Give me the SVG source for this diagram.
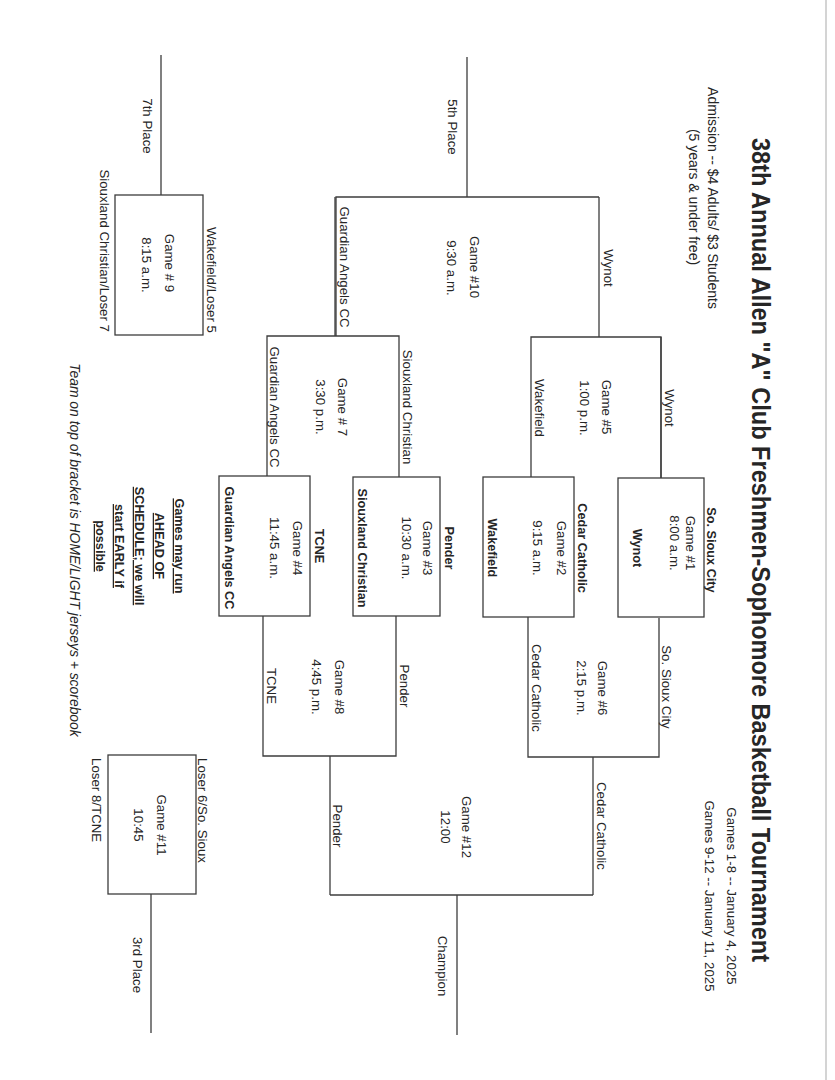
<svg xmlns="http://www.w3.org/2000/svg" width="835" height="1080" viewBox="0 0 835 1080">
<style>
.ln{stroke:#3c3c3c;stroke-width:1.3;fill:none}
.bx{fill:none;stroke:#3c3c3c;stroke-width:1.3}
text{font-family:"Liberation Sans",Arial,sans-serif;fill:#262626;text-anchor:middle}
.r{font-size:13.3px}
.b{font-size:12.7px;font-weight:bold}
.st{text-anchor:start}
.en{text-anchor:end}
.u{font-size:12.7px;font-weight:bold;text-decoration:underline}
</style>
<rect width="835" height="1080" fill="#fff"/>
<line x1="826" y1="0" x2="826" y2="1080" stroke="#d4d4d4" stroke-width="2"/>

<g id="header">
<text transform="rotate(90)" x="550" y="-752" font-size="26" font-weight="bold" textLength="824" lengthAdjust="spacingAndGlyphs">38th Annual Allen "A" Club Freshmen-Sophomore Basketball Tournament</text>
<text class="r" transform="rotate(90)" x="198" y="-708" font-size="14" style="font-size:14px">Admission -- $4 Adults/ $3 Students</text>
<text class="r" transform="rotate(90)" x="197" y="-689" style="font-size:14px">(5 years &amp; under free)</text>
<text class="r" transform="rotate(90)" x="896" y="-727">Games 1-8 -- January 4, 2025</text>
<text class="r" transform="rotate(90)" x="896" y="-705">Games 9-12 -- January 11, 2025</text>
</g>

<g id="connectors">
<line class="ln" x1="661" y1="337" x2="661" y2="478"/>
<line class="ln" x1="599" y1="197" x2="599" y2="337"/>
<line class="ln" x1="335" y1="197" x2="335" y2="336"/>
<line class="ln" x1="467" y1="57" x2="467" y2="197"/>
<line class="ln" x1="161" y1="55" x2="161" y2="195"/>
<line class="ln" x1="593" y1="757" x2="593" y2="895"/>
<line class="ln" x1="330" y1="756" x2="330" y2="895"/>
<line class="ln" x1="457" y1="895" x2="457" y2="1035"/>
<line class="ln" x1="151" y1="894" x2="151" y2="1033"/>
</g>

<g id="game1">
<rect class="bx" x="618" y="478" width="86" height="139"/>
<text class="b" transform="rotate(90)" x="550" y="-707">So. Sioux City</text>
<text class="r" transform="rotate(90)" x="543" y="-686">Game #1</text>
<text class="r" transform="rotate(90)" x="543" y="-670">8:00 a.m.</text>
<text class="b" transform="rotate(90)" x="548" y="-633">Wynot</text>
</g>

<g id="game2">
<rect class="bx" x="483" y="477" width="91" height="140"/>
<text class="b" transform="rotate(90)" x="548" y="-578">Cedar Catholic</text>
<text class="r" transform="rotate(90)" x="548" y="-557">Game #2</text>
<text class="r" transform="rotate(90)" x="548" y="-533">9:15 a.m.</text>
<text class="b" transform="rotate(90)" x="548" y="-488">Wakefield</text>
</g>

<g id="game3">
<rect class="bx" x="353" y="477" width="87" height="139"/>
<text class="b" transform="rotate(90)" x="548" y="-445">Pender</text>
<text class="r" transform="rotate(90)" x="548" y="-423">Game #3</text>
<text class="r" transform="rotate(90)" x="548" y="-402">10:30 a.m.</text>
<text class="b" transform="rotate(90)" x="548" y="-358">Siouxland Christian</text>
</g>

<g id="game4">
<rect class="bx" x="219" y="476" width="91" height="140"/>
<text class="b" transform="rotate(90)" x="546" y="-315">TCNE</text>
<text class="r" transform="rotate(90)" x="548" y="-293">Game #4</text>
<text class="r" transform="rotate(90)" x="548" y="-270">11:45 a.m.</text>
<text class="b" transform="rotate(90)" x="548" y="-225">Guardian Angels CC</text>
</g>

<g id="game5">
<path class="ln" d="M531,477 V337 H661 V478"/>
<text class="r" transform="rotate(90)" x="408" y="-665">Wynot</text>
<text class="r" transform="rotate(90)" x="407" y="-602">Game #5</text>
<text class="r" transform="rotate(90)" x="408" y="-580">1:00 p.m.</text>
<text class="r" transform="rotate(90)" x="408" y="-535">Wakefield</text>
</g>

<g id="game6">
<path class="ln" d="M528,617 V757 H659 V618"/>
<text class="r" transform="rotate(90)" x="687" y="-662">So. Sioux City</text>
<text class="r" transform="rotate(90)" x="688" y="-598">Game #6</text>
<text class="r" transform="rotate(90)" x="688" y="-577">2:15 p.m.</text>
<text class="r" transform="rotate(90)" x="688" y="-532">Cedar Catholic</text>
</g>

<g id="game7">
<path class="ln" d="M267,476 V336 H399 V477"/>
<text class="r" transform="rotate(90)" x="407" y="-403">Siouxland Christian</text>
<text class="r" transform="rotate(90)" x="407" y="-338">Game # 7</text>
<text class="r" transform="rotate(90)" x="407" y="-316">3:30 p.m.</text>
<text class="r" transform="rotate(90)" x="407" y="-270">Guardian Angels CC</text>
</g>

<g id="game8">
<path class="ln" d="M263,616 V756 H396 V616"/>
<text class="r" transform="rotate(90)" x="686" y="-400">Pender</text>
<text class="r" transform="rotate(90)" x="687" y="-335">Game #8</text>
<text class="r" transform="rotate(90)" x="687" y="-312">4:45 p.m.</text>
<text class="r" transform="rotate(90)" x="686" y="-267">TCNE</text>
</g>

<g id="game9">
<rect class="bx" x="115" y="195" width="88" height="140"/>
<text class="r en" transform="rotate(90)" x="333" y="-207">Wakefield/Loser 5</text>
<text class="r" transform="rotate(90)" x="263" y="-165">Game # 9</text>
<text class="r" transform="rotate(90)" x="265" y="-142">8:15 a.m.</text>
<text class="r en" transform="rotate(90)" x="332" y="-100">Siouxland Christian/Loser 7</text>
<text class="r" transform="rotate(90)" x="126" y="-143">7th Place</text>
</g>

<g id="game10">
<path class="ln" d="M336,336 V197 H599"/>
<text class="r" transform="rotate(90)" x="268" y="-604">Wynot</text>
<text class="r" transform="rotate(90)" x="267" y="-470">Game #10</text>
<text class="r" transform="rotate(90)" x="268" y="-447">9:30 a.m.</text>
<text class="r" transform="rotate(90)" x="267" y="-340">Guardian Angels CC</text>
<text class="r" transform="rotate(90)" x="127" y="-448">5th Place</text>
</g>

<g id="game11">
<rect class="bx" x="108" y="755" width="88" height="139"/>
<text class="r st" transform="rotate(90)" x="758" y="-198">Loser 6/So. Sioux</text>
<text class="r" transform="rotate(90)" x="825" y="-157">Game #11</text>
<text class="r" transform="rotate(90)" x="825" y="-134">10:45</text>
<text class="r st" transform="rotate(90)" x="758" y="-92">Loser 8/TCNE</text>
<text class="r" transform="rotate(90)" x="965" y="-133">3rd Place</text>
</g>

<g id="game12">
<path class="ln" d="M330,895 H593"/>
<text class="r" transform="rotate(90)" x="826" y="-597">Cedar Catholic</text>
<text class="r" transform="rotate(90)" x="826" y="-333">Pender</text>
<text class="r" transform="rotate(90)" x="827" y="-462">Game #12</text>
<text class="r" transform="rotate(90)" x="827" y="-441">12:00</text>
<text class="r" transform="rotate(90)" x="966" y="-438">Champion</text>
</g>

<g id="notes">
<text class="u" transform="rotate(90)" x="546" y="-175">Games may run</text>
<text class="u" transform="rotate(90)" x="546" y="-155">AHEAD OF</text>
<text class="u" transform="rotate(90)" x="546" y="-135">SCHEDULE; we will</text>
<text class="u" transform="rotate(90)" x="546" y="-115">start EARLY if</text>
<text class="u" transform="rotate(90)" x="546" y="-96">possible</text>
<text transform="rotate(90)" x="550" y="-70" font-size="13.9" font-style="italic">Team on top of bracket is HOME/LIGHT jerseys + scorebook</text>
</g>
</svg>
